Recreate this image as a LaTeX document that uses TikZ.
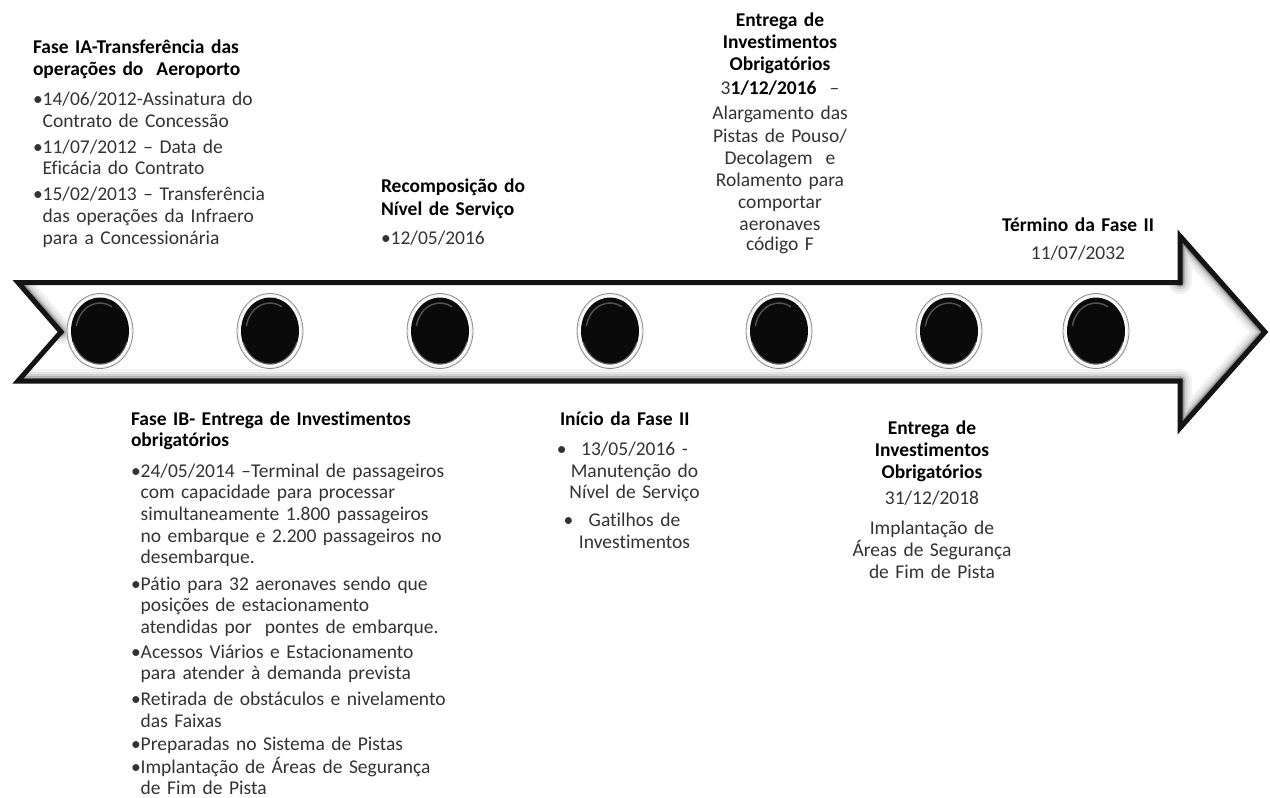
\documentclass[tikz,border=0pt]{standalone}
\usepackage{fontspec}
\setmainfont{Carlito}[Ligatures=NoCommon]
\usetikzlibrary{shapes.geometric}
\newcommand\hdtxt[1]{{\bfseries\color{black}#1}}
\lineskiplimit=-30pt
\begin{document}
\begin{tikzpicture}[x=1pt,y=-1pt,
  txtl/.style={inner sep=0pt, outer sep=0pt, text width=440pt, align=left,
    font=\fontsize{19.5}{21.7}\selectfont, text=black!80},
  txtc/.style={inner sep=0pt, outer sep=0pt, text width=300pt, align=center,
    font=\fontsize{19.5}{21.7}\selectfont, text=black!80},
  dot/.style={ellipse, minimum width=66pt, minimum height=75pt, inner sep=0pt,
    fill=black!6, draw=black!45, line width=0.8pt,
    path picture={
      \fill[white] (path picture bounding box.center) ellipse [x radius=31pt, y radius=35.5pt];
      \fill[black!96] (path picture bounding box.center) ellipse [x radius=29pt, y radius=33.5pt];
      \draw[black!55, line width=1.4pt, opacity=0.7]
        ([shift={(170:24pt and 28pt)}]path picture bounding box.center)
        arc[start angle=170, end angle=60, x radius=24pt, y radius=28pt];
      \draw[black!40, line width=1pt, opacity=0.6]
        ([shift={(200:28.5pt and 33pt)}]path picture bounding box.center)
        arc[start angle=200, end angle=340, x radius=28.5pt, y radius=33pt];
    }},
  bevel/.style={line join=round, line cap=round}
]
\useasboundingbox[fill=white] (0,0) rectangle (1270,798);

% ---------- arrow ----------
\coordinate (p1) at (18,282.5);
\coordinate (p2) at (1180,282.5);
\coordinate (p3) at (1180,236);
\coordinate (p4) at (1265,332);
\coordinate (p5) at (1180,428);
\coordinate (p6) at (1180,381);
\coordinate (p7) at (18,381);
\coordinate (p8) at (61,332);

\fill[white] (p1)--(p2)--(p3)--(p4)--(p5)--(p6)--(p7)--(p8)--cycle;
\begin{scope}
  \clip (p1)--(p2)--(p3)--(p4)--(p5)--(p6)--(p7)--(p8)--cycle;
  \foreach \w/\c in {24/5, 19/10, 14/18, 10/30, 7/48} {
    \draw[bevel, line width=\w pt, black!\c] (p7)--(p6);
    \draw[bevel, line width=\w pt, black!\c] (p2)--(p3)--(p4)--(p5)--(p6);
    \draw[bevel, line width=\w pt, black!\c] (p1)--(p8);
  }
\end{scope}
\draw[line width=5pt, black!92, line join=miter, miter limit=20]
  (p1)--(p2)--(p3)--(p4)--(p5)--(p6)--(p7)--(p8)--cycle;

% ---------- milestones ----------
\node[dot] (c1) at (100,331) {};
\node[dot] (c2) at (270,331) {};
\node[dot] (c3) at (440,331) {};
\node[dot] (c4) at (610,331) {};
\node[dot] (c5) at (779,331) {};
\node[dot] (c6) at (949,331) {};
\node[dot] (c7) at (1096,331) {};

% ---------- texts above ----------
\node[txtl, anchor=base west] (tA) at (33,53) {%
\hdtxt{Fase IA-Transferência das}\\[0.8pt]
\hdtxt{operações do\ \ Aeroporto}\\[8.3pt]
•14/06/2012-Assinatura do\\
\phantom{•}Contrato de Concessão\\[4.3pt]
•11/07/2012 – Data de\\
\phantom{•}Eficácia do Contrato\\[4.3pt]
•15/02/2013 – Transferência\\
\phantom{•}das operações da Infraero\\
\phantom{•}para a Concessionária};

\node[txtl, anchor=base west] (tB) at (381,192) {%
\hdtxt{Recomposição do}\\[1.3pt]
\hdtxt{Nível de Serviço}\\[7.3pt]
•12/05/2016};

\node[txtc, anchor=base] (tC) at (780,26) {%
\hdtxt{Entrega de}\\[0.3pt]
\hdtxt{Investimentos}\\[0.3pt]
\hdtxt{Obrigatórios}\\[2.3pt]
3\hdtxt{1/12/2016}\ \ –\\[3.3pt]
Alargamento das\\[1.3pt]
Pistas de Pouso/\\[0.3pt]
Decolagem\ \ e\\[0.3pt]
Rolamento para\\[0.3pt]
comportar\\[0.3pt]
aeronaves\\[-0.7pt]
código F};

\node[txtc, anchor=base] (tD) at (1078,231) {%
\hdtxt{Término da Fase II}\\[6.3pt]
11/07/2032};

% ---------- texts below ----------
\node[txtl, anchor=base west] (tE) at (131,425) {%
\hdtxt{Fase IB- Entrega de Investimentos}\\[-0.7pt]
\hdtxt{obrigatórios}\\[9.3pt]
•24/05/2014 –Terminal de passageiros\\
\phantom{•}com capacidade para processar\\
\phantom{•}simultaneamente 1.800 passageiros\\
\phantom{•}no embarque e 2.200 passageiros no\\
\phantom{•}desembarque.\\[4.5pt]
•Pátio para 32 aeronaves sendo que\\
\phantom{•}posições de estacionamento\\
\phantom{•}atendidas por\ \ pontes de embarque.\\[2.9pt]
•Acessos Viários e Estacionamento\\
\phantom{•}para atender à demanda prevista\\[4.2pt]
•Retirada de obstáculos e nivelamento\\
\phantom{•}das Faixas\\[1.6pt]
•Preparadas no Sistema de Pistas\\[1pt]
•Implantação de Áreas de Segurança\\[-0.5pt]
\phantom{•}de Fim de Pista};

\node[txtl, anchor=base west] (tF) at (560,425) {\hdtxt{Início da Fase II}};
\node[txtc, anchor=base] (tF2) at (634.5,455) {%
\leavevmode\llap{•\hspace{14.5pt}}13/05/2016 -\\[0.3pt]
Manutenção do\\[-0.7pt]
Nível de Serviço\\[6.3pt]
\leavevmode\llap{•\hspace{15.5pt}}Gatilhos de\\[0.3pt]
Investimentos};

\node[txtc, anchor=base] (tG) at (932,434) {%
\hdtxt{Entrega de}\\[0.3pt]
\hdtxt{Investimentos}\\[0.3pt]
\hdtxt{Obrigatórios}\\[4.3pt]
31/12/2018\\[8.3pt]
Implantação de\\[0.3pt]
Áreas de Segurança\\[0.3pt]
de Fim de Pista};
\end{tikzpicture}
\end{document}
